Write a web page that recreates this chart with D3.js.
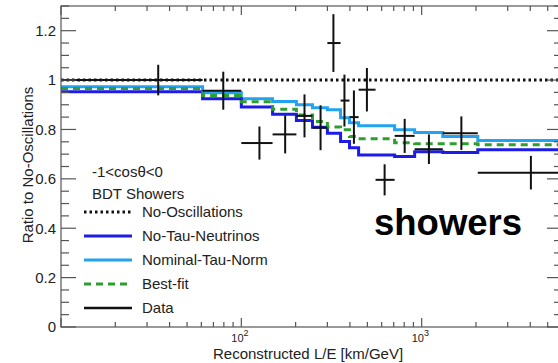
<!DOCTYPE html>
<html lang="en">

<head>
  <meta charset="UTF-8">
  <script src="https://d3js.org/d3.v7.min.js" charset="utf-8"></script>
  <title>Ratio to No-Oscillations</title>
  <style>
    body { margin: 0; background: #fff; }
    text { font-family: "Liberation Sans", Arial, sans-serif; fill: #222; }
  </style>
</head>

<body>
  <script type="text/javascript">

    // bin edges in L/E (km/GeV)
    var binEdges = [10, 61, 100, 149, 202, 248, 300, 355, 398, 447, 555, 708, 914, 1309, 2047, 6000];

    // expectations per bin
    var nominalTauNorm = [0.973, 0.949, 0.924, 0.913, 0.900, 0.888, 0.880, 0.847, 0.827, 0.815, 0.815, 0.799, 0.788, 0.771, 0.755];
    var bestFit = [0.966, 0.938, 0.912, 0.882, 0.859, 0.832, 0.810, 0.799, 0.771, 0.762, 0.762, 0.746, 0.742, 0.742, 0.738];
    var noTauNeutrinos = [0.953, 0.924, 0.891, 0.862, 0.836, 0.809, 0.785, 0.751, 0.726, 0.697, 0.697, 0.690, 0.710, 0.707, 0.718];
    var noOscillations = 1.0;

    // data points
    var dataX = [34.6, 79.4, 126, 175, 224, 275, 324, 373, 421, 497, 623, 805, 1097, 1660, 4033];
    var dataY = [1.0, 0.957, 0.745, 0.78, 0.855, 0.807, 1.15, 0.917, 0.85, 0.961, 0.596, 0.774, 0.72, 0.785, 0.625];
    var dataErr = [0.062, 0.077, 0.067, 0.077, 0.087, 0.091, 0.117, 0.105, 0.108, 0.088, 0.063, 0.069, 0.06, 0.068, 0.068];

    var yTickLabels = ["0", "0.2", "0.4", "0.6", "0.8", "1", "1.2"];
    var legendItems = ["No-Oscillations", "No-Tau-Neutrinos", "Nominal-Tau-Norm", "Best-fit", "Data"];

    var outer_w = 558;
    var outer_h = 363;
    var margin = { top: 6, right: -4, bottom: 36, left: 61 };
    var w = outer_w - margin.left - margin.right;
    var h = outer_h - margin.top - margin.bottom;

    var colDark = "#1c1ce6";
    var colLight = "#22a2f0";
    var colGreen = "#2e9e2e";
    var colAxis = "#555";

    var svg = d3.select("body")
      .append("svg")
      .attr("width", outer_w)
      .attr("height", outer_h);

    var xScale = d3.scaleLog()
      .domain([10, 6000])
      .range([margin.left, margin.left + w]);
    var yScale = d3.scaleLinear()
      .domain([0, 1.3])
      .range([margin.top + h, margin.top]);

    // step histogram path
    function steps(vals) {
      var pts = [];
      for (var i = 0; i < vals.length; i++) {
        pts.push([binEdges[i], vals[i]]);
        pts.push([binEdges[i + 1], vals[i]]);
      }
      return pts;
    }
    var line = d3.line()
      .x(function (d) { return xScale(d[0]); })
      .y(function (d) { return yScale(d[1]); });

    var plot = svg.append("g");

    plot.append("path")
      .attr("d", line(steps(nominalTauNorm)))
      .attr("fill", "none")
      .attr("stroke", colLight)
      .attr("stroke-width", 3);
    plot.append("path")
      .attr("d", line(steps(noTauNeutrinos)))
      .attr("fill", "none")
      .attr("stroke", colDark)
      .attr("stroke-width", 3);
    plot.append("path")
      .attr("d", line(steps(bestFit)))
      .attr("fill", "none")
      .attr("stroke", colGreen)
      .attr("stroke-width", 3)
      .attr("stroke-dasharray", "7,5");
    plot.append("line")
      .attr("x1", xScale(binEdges[0]))
      .attr("x2", xScale(binEdges[binEdges.length - 1]))
      .attr("y1", yScale(noOscillations))
      .attr("y2", yScale(noOscillations))
      .attr("stroke", "#111")
      .attr("stroke-width", 3)
      .attr("stroke-dasharray", "2.5,3");

    // data crosses
    var pts = plot.selectAll("g.pt")
      .data(dataY)
      .enter()
      .append("g")
      .attr("class", "pt");
    pts.append("line")
      .attr("x1", function (d, i) { return xScale(binEdges[i]); })
      .attr("x2", function (d, i) { return xScale(binEdges[i + 1]); })
      .attr("y1", function (d) { return yScale(d); })
      .attr("y2", function (d) { return yScale(d); })
      .attr("stroke", "#111")
      .attr("stroke-width", 2);
    pts.append("line")
      .attr("x1", function (d, i) { return xScale(dataX[i]); })
      .attr("x2", function (d, i) { return xScale(dataX[i]); })
      .attr("y1", function (d, i) { return yScale(d + dataErr[i]); })
      .attr("y2", function (d, i) { return yScale(d - dataErr[i]); })
      .attr("stroke", "#111")
      .attr("stroke-width", 2);

    // frame
    var x0 = xScale.range()[0], x1 = xScale.range()[1];
    var y0 = yScale.range()[0], y1 = yScale.range()[1];
    svg.append("rect")
      .attr("x", x0).attr("y", y1)
      .attr("width", x1 - x0).attr("height", y0 - y1)
      .attr("fill", "none")
      .attr("stroke", colAxis)
      .attr("stroke-width", 1.2);

    // y ticks (left and right)
    var yTicks = d3.range(0, 27).map(function (i) { return i * 0.05; });
    yTicks.forEach(function (v, i) {
      var major = i % 4 === 0;
      var len = major ? 15 : 8;
      var y = yScale(v);
      svg.append("line").attr("x1", x0).attr("x2", x0 + len).attr("y1", y).attr("y2", y)
        .attr("stroke", colAxis).attr("stroke-width", 1.2);
      svg.append("line").attr("x1", x1).attr("x2", x1 - len).attr("y1", y).attr("y2", y)
        .attr("stroke", colAxis).attr("stroke-width", 1.2);
      if (major) {
        svg.append("text")
          .attr("x", x0 - 5)
          .attr("y", y)
          .attr("dy", "0.36em")
          .attr("text-anchor", "end")
          .attr("font-size", 15)
          .text(yTickLabels[i / 4]);
      }
    });

    // x ticks (bottom and top)
    xScale.ticks().forEach(function (v) {
      var lg = Math.log10(v);
      var major = Math.abs(lg - Math.round(lg)) < 1e-9;
      var len = major ? 9 : 5;
      var x = xScale(v);
      svg.append("line").attr("x1", x).attr("x2", x).attr("y1", y0).attr("y2", y0 - len)
        .attr("stroke", colAxis).attr("stroke-width", 1.2);
      svg.append("line").attr("x1", x).attr("x2", x).attr("y1", y1).attr("y2", y1 + len)
        .attr("stroke", colAxis).attr("stroke-width", 1.2);
      if (major && v > 10) {
        var t = svg.append("text")
          .attr("x", x - 10)
          .attr("y", 342)
          .attr("font-size", 11);
        t.append("tspan").text("10");
        t.append("tspan").attr("dy", -6).attr("font-size", 9).text(Math.round(lg));
      }
    });

    // axis titles
    svg.append("text")
      .attr("x", 213)
      .attr("y", 359)
      .attr("font-size", 15)
      .text("Reconstructed L/E [km/GeV]");
    svg.append("text")
      .attr("transform", "translate(33,165) rotate(-90)")
      .attr("text-anchor", "middle")
      .attr("font-size", 15)
      .text("Ratio to No-Oscillations");

    // legend
    svg.append("text").attr("x", 92).attr("y", 177).attr("font-size", 15).text("-1<cosθ<0");
    svg.append("text").attr("x", 92).attr("y", 199).attr("font-size", 15).text("BDT Showers");

    var legStyles = [
      { c: "#111", d: "2.5,3", wd: 3 },
      { c: colDark, d: null, wd: 3 },
      { c: colLight, d: null, wd: 3 },
      { c: colGreen, d: "7,5", wd: 3 },
      { c: "#111", d: null, wd: 2.5 }
    ];
    var leg = svg.selectAll("g.leg")
      .data(legendItems)
      .enter()
      .append("g")
      .attr("class", "leg")
      .attr("transform", function (d, i) { return "translate(0," + (212 + i * 24) + ")"; });
    leg.append("line")
      .attr("x1", 84).attr("x2", 132)
      .attr("stroke", function (d, i) { return legStyles[i].c; })
      .attr("stroke-width", function (d, i) { return legStyles[i].wd; })
      .attr("stroke-dasharray", function (d, i) { return legStyles[i].d; });
    leg.append("text")
      .attr("x", 142)
      .attr("dy", "0.36em")
      .attr("font-size", 15)
      .text(function (d) { return d; });

    svg.append("text")
      .attr("x", 374)
      .attr("y", 235)
      .attr("font-size", 36.5)
      .attr("font-weight", "bold")
      .style("fill", "#000")
      .text("showers");

  </script>
</body>

</html>
